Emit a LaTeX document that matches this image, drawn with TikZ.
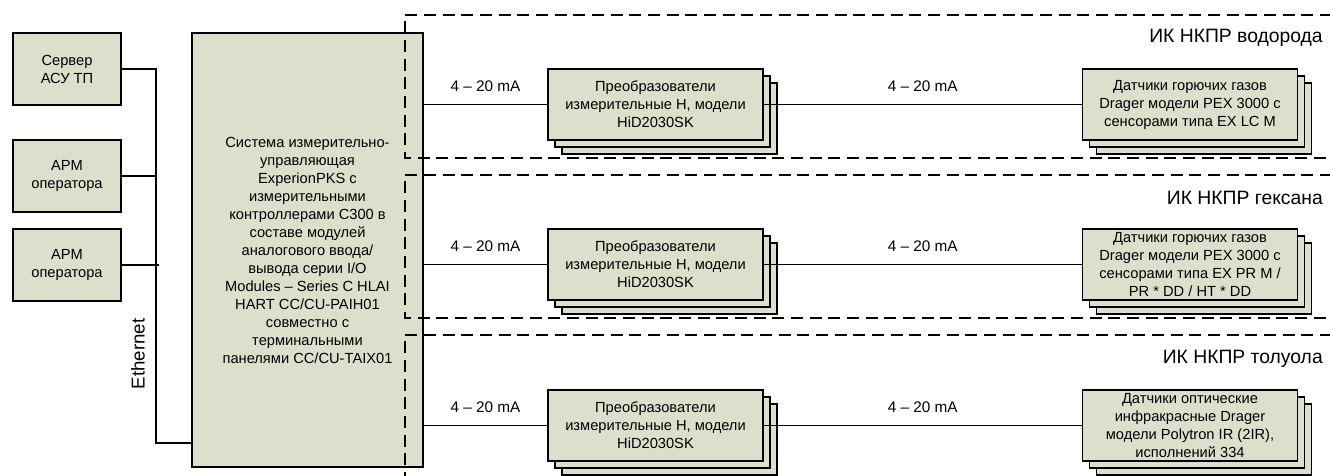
\documentclass[tikz,border=0pt]{standalone}
\usepackage{fontspec}
\setmainfont{Liberation Sans}
\usetikzlibrary{positioning,shadows}
\definecolor{boxfill}{RGB}{221,223,205}

\begin{document}
\begin{tikzpicture}[x=0.75pt, y=-0.75pt,
	blk/.style={draw, line width=1.1pt, fill=boxfill, align=center, inner sep=2pt, font=\fontsize{11}{13.5}\selectfont},
	pc/.style={blk, minimum width=81pt, minimum height=54pt},
	stk/.style={blk, minimum width=161pt, minimum height=53pt,
		double copy shadow={shadow xshift=5.25pt, shadow yshift=-5.25pt}},
	grp/.style={dash pattern=on 9pt off 5pt, line width=1pt},
	wire/.style={line width=1pt},
	ma/.style={above=6pt, font=\fontsize{11.5}{13}\selectfont},
	grptitle/.style={anchor=east, inner sep=0pt, font=\fontsize{14.5}{16}\selectfont}]
			\useasboundingbox (0,0) rectangle (1330,475);

			% operator level
			\node[pc] (srv) at (67,69) {Сервер\\АСУ ТП};
			\node[pc] (arm1) at (67,176) {АРМ\\оператора};
			\node[pc] (arm2) at (67,265) {АРМ\\оператора};
			\node[blk, minimum width=173pt, minimum height=325.5pt] (sys) at (307.5,250)
				{Система измерительно-\\управляющая\\ExperionPKS с\\измерительными\\контроллерами С300 в\\составе модулей\\аналогового ввода/\\вывода серии I/O\\Modules -- Series C HLAI\\HART CC/CU-PAIH01\\совместно с\\терминальными\\панелями CC/CU-TAIX01};
			\node[rotate=90, font=\fontsize{14}{16}\selectfont] (eth) at (138,354) {Ethernet};

			\coordinate (bus) at (156,443);
			\draw[wire] (srv.east) -| (bus) -- (bus -| sys.west);
			\draw[wire] (arm1.east) -- (arm1.east -| bus);
			\draw[wire] (arm2.east) -- ++(37,0);

			% measuring channels
			\node[stk] (conv1) at (655.5,104.5) {Преобразователи\\измерительные H, модели\\HiD2030SK};
			\node[stk] (conv2) at (655.5,264.5) {Преобразователи\\измерительные H, модели\\HiD2030SK};
			\node[stk] (conv3) at (655.5,425.5) {Преобразователи\\измерительные H, модели\\HiD2030SK};
			\node[stk] (sens1) at (1190,104.5) {Датчики горючих газов\\Drager модели PEX 3000 с\\сенсорами типа EX LC M};
			\node[stk] (sens2) at (1190,264.5) {Датчики горючих газов\\Drager модели PEX 3000 с\\сенсорами типа EX PR M /\\PR * DD / HT * DD};
			\node[stk] (sens3) at (1190,425.5) {Датчики оптические\\инфракрасные Drager\\модели Polytron IR (2IR),\\исполнений 334};

			\foreach \i in {1,2,3} {
				\draw[wire] (conv\i.west -| sys.east) -- node[ma]{4 -- 20 mA} (conv\i.west);
				\draw[wire] (conv\i.east) -- node[ma]{4 -- 20 mA} (sens\i.west);
			}

			% channel groups
			\draw[grp] (1332,15) -| (405,158) -- (1332,158);
			\draw[grp] (1332,175) -| (405,318) -- (1332,318);
			\draw[grp] (1332,335) -| (405,477);
			\node[grptitle] (g1) at (1323,38) {ИК НКПР водорода};
			\node[grptitle] (g2) at (1323,198) {ИК НКПР гексана};
			\node[grptitle] (g3) at (1323,359) {ИК НКПР толуола};
		\end{tikzpicture}
\end{document}
